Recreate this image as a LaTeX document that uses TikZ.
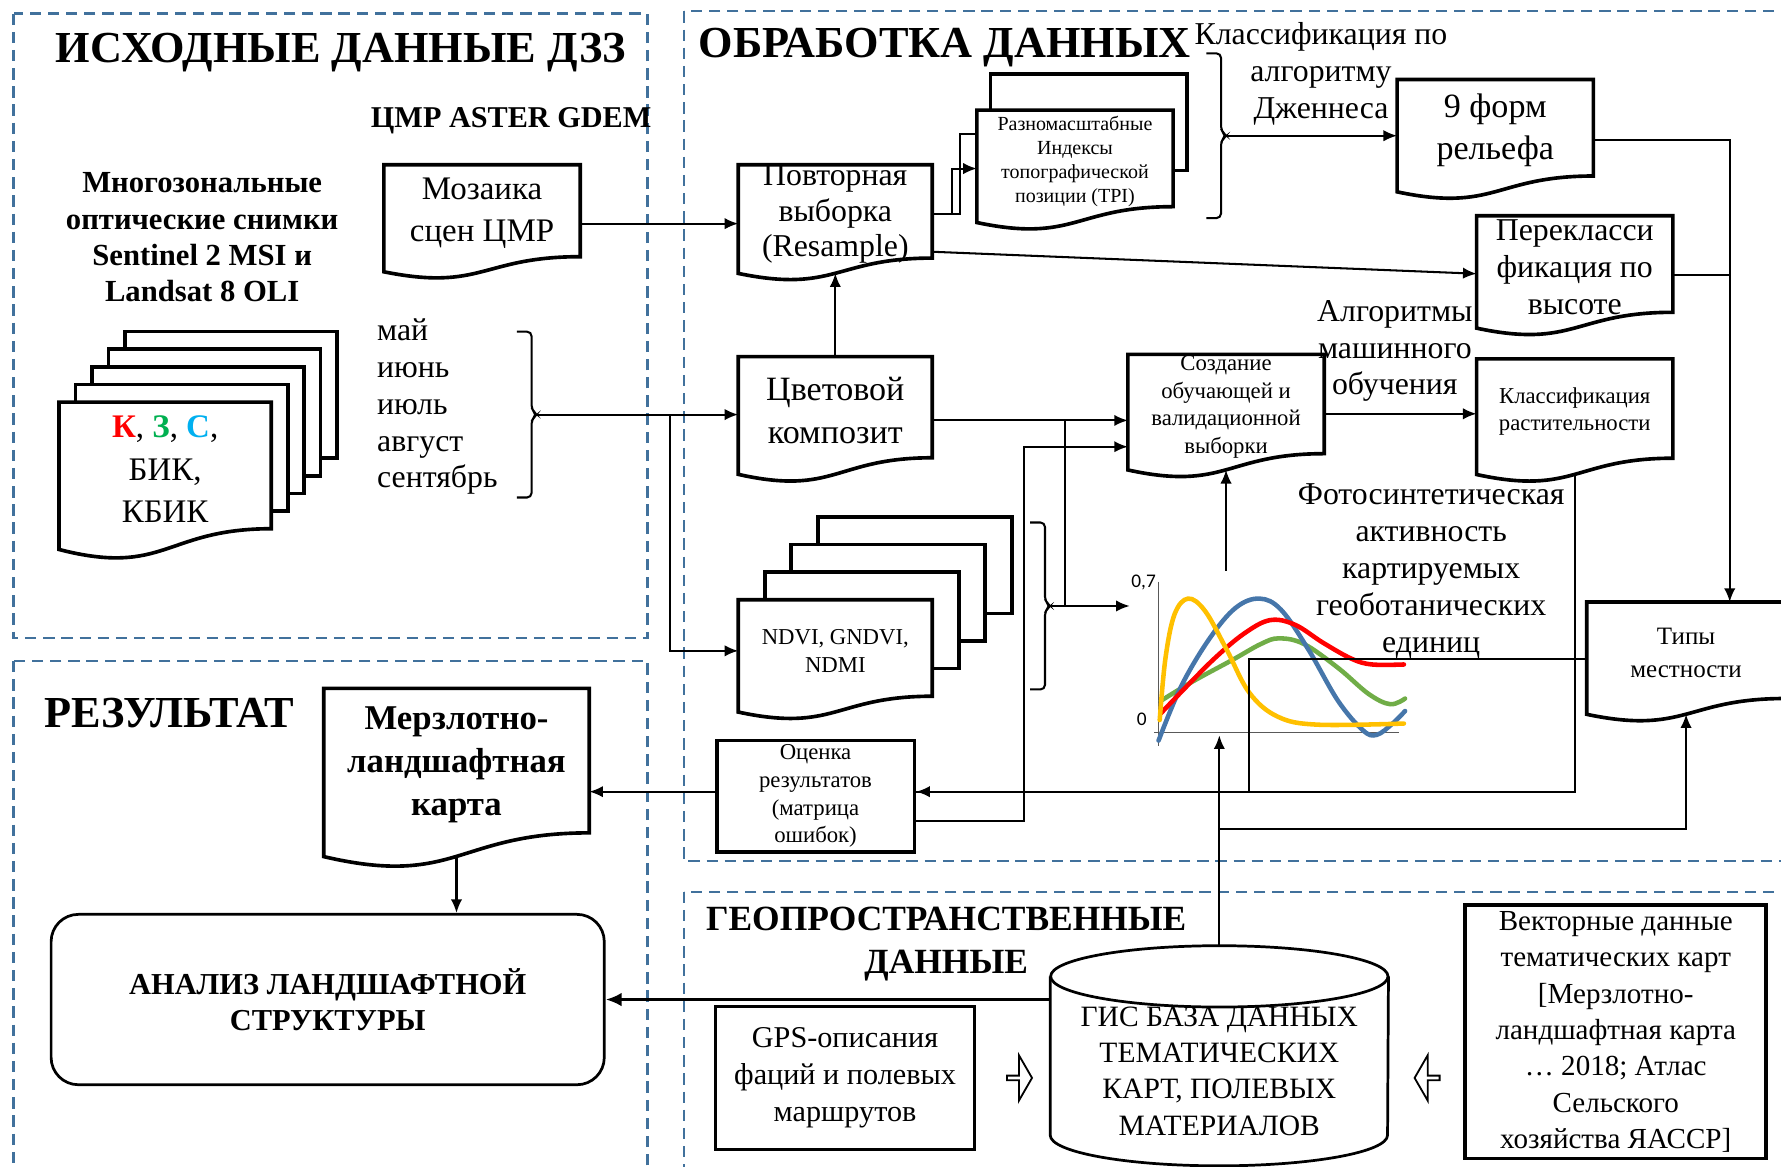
\documentclass[tikz,border=0pt]{standalone}
\usepackage{fontspec}
\setmainfont{Liberation Serif}
\newfontfamily\chartfont{Carlito}
\usetikzlibrary{arrows.meta,calc,shapes.arrows}

\definecolor{panelblue}{RGB}{65,113,156}
\definecolor{kred}{RGB}{255,0,0}
\definecolor{kgreen}{RGB}{0,176,80}
\definecolor{kblue}{RGB}{0,176,240}
\definecolor{cyel}{RGB}{255,192,0}
\definecolor{cblue}{RGB}{70,118,170}
\definecolor{cred}{RGB}{255,0,0}
\definecolor{cgreen}{RGB}{112,173,71}

\pgfdeclarelayer{bg}
\pgfsetlayers{bg,main}

\tikzset{
  panel/.style={draw=panelblue, line width=1pt, dash pattern=on 5pt off 3pt},
  docbox/.style={draw, line width=1.6pt, fill=white},
  doc/.style={anchor=north west, inner sep=0pt, align=center},
  box/.style={draw, line width=1.6pt, align=center, inner sep=0pt},
  arr/.style={-{Latex[length=6pt,width=5pt]}, line width=0.9pt},
  arrthick/.style={-{Latex[length=7pt,width=6pt]}, line width=1.6pt},
  link/.style={line width=0.9pt},
  ttl/.style={font=\fontsize{19.5}{22}\selectfont\bfseries},
  big/.style={font=\fontsize{14}{16.25}\selectfont},
  small/.style={font=\fontsize{10}{12.15}\selectfont},
  hollow/.style={single arrow, draw, line width=0.8pt, minimum height=11pt,
    minimum width=20pt, single arrow head extend=3.5pt, single arrow tip angle=120, inner sep=0pt},
  curve/.style={line width=2pt, line cap=round},
  axisline/.style={draw=gray!70!black, line width=0.6pt},
  chartlbl/.style={font=\chartfont\fontsize{8.5}{10}\selectfont, inner sep=1pt}
}

% document outline below node #1
\newcommand{\docout}[1]{%
  \begin{pgfonlayer}{bg}
  \draw[docbox] (#1.north west) -- (#1.north east)
    -- ($(#1.north east)!0.944!(#1.south east)$)
    .. controls ($(#1.north)!0.944!(#1.south)$) and ($(#1.north)!1.302!(#1.south)$)
    .. ($(#1.north west)!1.099!(#1.south west)$) -- cycle;
  \end{pgfonlayer}
  \coordinate (#1-b) at ($(#1.north)!1.098!(#1.south)$);}

% stacked sheets behind node #1: count, dx, dy
\newcommand{\sheets}[4]{%
  \begin{pgfonlayer}{bg}
  \foreach \k in {#2,...,1}
    \draw[docbox] ($(#1.north west)+({\k*(#3)},{\k*(#4)})$) rectangle ($(#1.north east)!0.944!(#1.south east)+({\k*(#3)},{\k*(#4)})$);
  \end{pgfonlayer}}

% bracket with tip: name, x, y top, y bottom
\newcommand{\sidebrace}[4]{%
  \draw[link, rounded corners=2pt] ({#2-13},#3) -- (#2,#3) -- (#2,{(#3+#4)/2-4}) -- ({#2+5},{(#3+#4)/2})
    -- (#2,{(#3+#4)/2+4}) -- (#2,#4) -- ({#2-13},#4);
  \coordinate (#1) at ({#2+5},{(#3+#4)/2});}

\begin{document}
\begin{tikzpicture}[x=0.5pt,y=0.5pt,yscale=-1,xscale=1]
\useasboundingbox (0,0) rectangle (1568,1027);

%Panels
\draw[panel] (12,12) rectangle (570,562);
\draw[panel] (602,10) rectangle (1590,758);
\draw[panel] (12,582) rectangle (570,1045);
\draw[panel] (602,785) rectangle (1590,1045);

% Text Node
\node[ttl] (t1) at (300,46) {ИСХОДНЫЕ ДАННЫЕ ДЗЗ};
\node[ttl, anchor=west] (t2) at (608,42) {ОБРАБОТКА ДАННЫХ};
\node[ttl, anchor=west] (t3) at (32,628) {РЕЗУЛЬТАТ};
\node[font=\fontsize{15.6}{19}\selectfont\bfseries, align=center] (t4) at (833,831) {ГЕОПРОСТРАНСТВЕННЫЕ\\ДАННЫЕ};
\node[font=\fontsize{13.3}{16}\selectfont\bfseries] (dem) at (450,106) {ЦМР ASTER GDEM};
\node[font=\fontsize{13.5}{16}\selectfont\bfseries, align=center] (msi) at (178,209) {Многозональные\\оптические снимки\\Sentinel 2 MSI и\\Landsat 8 OLI};

% Spectral images
\node[doc, minimum width=93pt, minimum height=58.65pt, font=\fontsize{14.5}{18.75}\selectfont] (spec) at (52,354)
  {\textbf{\color{kred}К}, \textbf{\color{kgreen}З}, \textbf{\color{kblue}С},\\БИК,\\КБИК};
\sheets{spec}{4}{14.5}{-15.5}
\docout{spec}
\node[big, anchor=west, align=left] (months) at (325,358) {май\\июнь\\июль\\август\\сентябрь};
\sidebrace{mtip}{468}{292}{438}

% DEM
\node[doc, minimum width=86pt, minimum height=42.5pt, font=\fontsize{14.5}{18.5}\selectfont] (mozaic) at (338,145) {Мозаика\\сцен ЦМР};
\docout{mozaic}
\node[doc, minimum width=85pt, minimum height=42.5pt, font=\fontsize{14}{15.5}\selectfont] (resample) at (650,145) {Повторная\\выборка\\(Resample)};
\docout{resample}
\node[doc, minimum width=86pt, minimum height=44.6pt, font=\fontsize{8.8}{10.5}\selectfont] (tpi) at (860,97) {Разномасштабные\\Индексы\\топографической\\позиции (TPI)};
\sheets{tpi}{1}{12}{-32}
\docout{tpi}
\sidebrace{ttip}{1075}{47}{192}
\node[big, align=center] (jenks) at (1163,65) {Классификация по\\алгоритму\\Дженнеса};
\node[doc, minimum width=86pt, minimum height=44.6pt, font=\fontsize{15}{18.5}\selectfont] (relief) at (1230,70) {9 форм\\рельефа};
\docout{relief}
\node[doc, big, minimum width=86pt, minimum height=44.6pt] (reclass) at (1300,190) {Перекласси\\фикация по\\высоте};
\docout{reclass}

% Composite and indices
\node[doc, minimum width=85pt, minimum height=46.75pt, font=\fontsize{15}{19}\selectfont] (composite) at (650,314) {Цветовой\\композит};
\docout{composite}
\node[doc, small, minimum width=85pt, minimum height=44.6pt] (ndvi) at (650,528) {NDVI, GNDVI,\\NDMI};
\sheets{ndvi}{3}{23.3}{-24.3}
\docout{ndvi}
\sidebrace{ntip}{920}{460}{607}
\node[doc, small, minimum width=86pt, minimum height=45.9pt] (sample) at (993,312) {Создание\\обучающей и\\валидационной\\выборки};
\docout{sample}
\node[big, align=center] (ml) at (1228,309) {Алгоритмы\\машинного\\обучения};
\node[doc, small, minimum width=86pt, minimum height=45.9pt] (vegclass) at (1300,316) {Классификация\\растительности};
\docout{vegclass}
\node[doc, minimum width=87pt, minimum height=44.6pt, font=\fontsize{11}{14.5}\selectfont] (terrain) at (1397,530) {Типы\\местности};
\docout{terrain}
\node[big, align=center] (photo) at (1260,503) {Фотосинтетическая\\активность\\картируемых\\геоботанических\\единиц};

% Chart
\node[minimum width=120pt, minimum height=72pt] (chart) at (1115,575) {};
\draw[axisline] (1020,512) -- (1020,657);
\draw[axisline] (1016,645) -- (1232,645);
\node[chartlbl, anchor=east] (l07) at (1020,513) {0,7};
\node[chartlbl, anchor=east] (l0) at (1012,633) {0};
\draw[curve, cgreen] plot[smooth, tension=0.6] coordinates {(1022,617) (1050,600) (1085,581) (1110,567) (1126,562) (1148,567) (1178,588) (1205,611) (1224,620) (1237,615)};
\draw[curve, cblue] plot[smooth, tension=0.6] coordinates {(1020,652) (1040,604) (1065,562) (1088,535) (1109,527) (1128,537) (1152,572) (1178,617) (1200,643) (1212,647) (1226,637) (1237,626)};
\draw[curve, cred] plot[smooth, tension=0.6] coordinates {(1022,628) (1045,604) (1070,579) (1095,558) (1118,546) (1140,550) (1165,566) (1190,580) (1208,585) (1236,585)};
\draw[curve, cyel] plot[smooth, tension=0.6] coordinates {(1021,634) (1026,580) (1034,541) (1046,527) (1061,538) (1080,572) (1100,610) (1125,631) (1160,638) (1236,637)};

% Results
\node[box, small, minimum width=87pt, minimum height=49pt] (assess) at (718,701) {Оценка\\результатов\\(матрица\\ошибок)};
\node[doc, minimum width=116.5pt, minimum height=67pt, font=\fontsize{15.3}{18.75}\selectfont\bfseries] (pmap) at (285,606) {Мерзлотно-\\ландшафтная\\карта};
\docout{pmap}
\node[draw, line width=1.2pt, rounded corners=12pt, minimum width=243.5pt, minimum height=75pt, align=center,
  font=\fontsize{13.4}{16}\selectfont\bfseries] (an) at (288.5,880) {АНАЛИЗ ЛАНДШАФТНОЙ\\СТРУКТУРЫ};

% Geodata
\node[align=center, minimum width=148.5pt, minimum height=83pt, inner sep=0pt, font=\fontsize{13}{16}\selectfont] (gis) at (1073.5,943) {ГИС БАЗА ДАННЫХ\\ТЕМАТИЧЕСКИХ\\КАРТ, ПОЛЕВЫХ\\МАТЕРИАЛОВ};
\draw[line width=1.2pt] (gis.north west) -- ($(gis.south west)+(0,-27)$) arc[start angle=180, end angle=0, x radius=148.5, y radius=27] -- (gis.north east);
\draw[line width=1.2pt] (gis.north) ellipse [x radius=148.5, y radius=27];
\node[box, minimum width=114pt, minimum height=63pt, font=\fontsize{13.3}{16.25}\selectfont] (gps) at (744,949) {GPS-описания\\фаций и полевых\\маршрутов};
\node[box, minimum width=132.5pt, minimum height=111.5pt, font=\fontsize{12.8}{16}\selectfont] (vector) at (1422.5,908.5) {Векторные данные\\тематических карт\\{[}Мерзлотно-\\ландшафтная карта\\… 2018; Атлас\\Сельского\\хозяйства ЯАССР{]}};
\node[hollow] (gpsarr) at (897,949) {};
\node[hollow, shape border rotate=180] (vecarr) at (1257,949) {};

%Straight Lines
\draw[arr] ([yshift=4.5pt]mozaic.east) -- ([yshift=4.5pt]mozaic.east -| resample.west);
\draw[arr] (composite.north) -- (resample-b);
\draw[link] (resample.east) -- ++(24,0) |- ($(tpi.north west)+(0,21)$);
\draw[arr] (resample.east) -- ++(17,0) |- ([yshift=3.2pt]tpi.west);
\draw[arr] ($(resample.north east)!0.88!(resample.south east)$) -- ([yshift=3pt]reclass.west);
\draw[arr] (ttip) -- (ttip -| relief.west);
\coordinate (tin) at ($(terrain.north west)!0.72!(terrain.north east)$);
\draw[arr] ([yshift=4pt]relief.east) -| (tin);
\draw[link] ([yshift=3.5pt]reclass.east) -- ([yshift=3.5pt]reclass.east -| tin);
\draw[arr] (mtip) -- (mtip -| composite.west);
\draw[arr] ($(mtip)+(117,0)$) |- (ndvi.west);
\draw[arr] ([yshift=4.5pt]composite.east) -- ([yshift=4.5pt]composite.east -| sample.west);
\coordinate (cj) at ($([yshift=4.5pt]composite.east)!0.676!([yshift=4.5pt]composite.east -| sample.west)$);
\draw[link] (cj) -- (cj |- ntip);
\draw[arr] (ntip) -- (ntip -| chart.west);
\draw[arr] (chart.north -| sample-b) -- (sample-b);
\draw[arr] ([yshift=3pt]sample.east) -- ([yshift=3pt]sample.east -| vegclass.west);
\draw[arr] (vegclass-b) |- ([yshift=-2pt]assess.east);
\draw[link] ([yshift=2.7pt]terrain.west) -- ++(-297,0) |- ([yshift=-2pt]assess.east);
\draw[arr] ([yshift=11pt]assess.east) -- ++(95,0) |- ([yshift=17.5pt]sample.west);
\draw[arr] ([yshift=-2pt]assess.west) -- ([yshift=-2pt]assess.west -| pmap.east);
\draw[arr] (pmap-b) -- (pmap-b |- an.north);
\draw[arrthick] (gis.west |- an.east) -- (an.east);
\draw[arr] ($(gis.north)+(0,-27)$) -- (gis.north |- chart.south);
\draw[arr] ($(gis.north)+(0,-130)$) -| (terrain-b);

\end{tikzpicture}
\end{document}
